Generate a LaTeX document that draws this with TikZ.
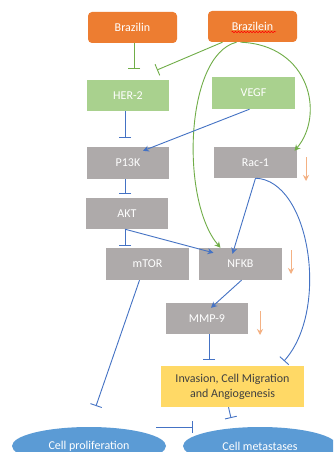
\documentclass[tikz,border=0pt]{standalone}
\usepackage{fontspec}
\setmainfont{Carlito}
\usetikzlibrary{arrows.meta,shapes.geometric,decorations.pathmorphing}
\definecolor{orangebox}{HTML}{ED7D31}
\definecolor{greenbox}{HTML}{A9D18E}
\definecolor{graybox}{HTML}{AEAAAA}
\definecolor{yellowbox}{HTML}{FFD966}
\definecolor{ellblue}{HTML}{5B9BD5}
\definecolor{linkblue}{HTML}{4472C4}
\definecolor{linkgreen}{HTML}{70AD47}
\definecolor{peach}{HTML}{F4B183}
\definecolor{darktext}{HTML}{404040}
\begin{document}
\begin{tikzpicture}[x=1pt,y=-1pt,
  font=\fontsize{12}{14}\selectfont,
  box/.style={rectangle,minimum width=82pt,minimum height=31pt,inner sep=0pt,text=white},
  orangenode/.style={box,fill=orangebox,rounded corners=4pt,minimum width=89pt},
  greennode/.style={box,fill=greenbox},
  graynode/.style={box,fill=graybox},
  cellnode/.style={ellipse,fill=ellblue,text=white,minimum width=154pt,minimum height=38pt,inner sep=0pt},
  tee/.style={line width=0.9pt,-{Bar[width=12pt,line width=0.9pt]}},
  act/.style={line width=0.9pt,-{Stealth[length=6pt,width=6pt]}},
  down/.style={peach,line width=1pt,-{Stealth[length=6pt,width=6pt]}}
]
\clip (0,0) rectangle (333,452);
\fill[white] (0,0) rectangle (333,452);
% nodes
\node[orangenode] (brazilin) at (132.5,27.5) {Brazilin};
\node[orangenode] (brazilein) at (252.5,26.5) {Brazilein};
\node[greennode] (her2) at (128,95.5) {HER-2};
\node[greennode,minimum width=83pt,minimum height=32pt] (vegf) at (253.5,93) {VEGF};
\node[graynode,minimum height=32pt] (p13k) at (128,163) {P13K};
\node[graynode,minimum width=83pt] (rac1) at (255.5,162.5) {Rac-1};
\node[graynode] (akt) at (127,213.5) {AKT};
\node[graynode,minimum width=83pt,minimum height=32pt] (mtor) at (147.5,264) {mTOR};
\node[graynode,minimum width=83pt,minimum height=32pt] (nfkb) at (240.5,264) {NFKB};
\node[graynode] (mmp9) at (207,318.5) {MMP-9};
\node[rectangle,fill=yellowbox,minimum width=143pt,minimum height=41pt,inner sep=0pt,text=darktext,align=center,font=\fontsize{12}{15}\selectfont] (inv) at (232.5,386.5) {Invasion, Cell Migration\\and Angiogenesis};
\node[cellnode] (prolif) at (89,446) {Cell proliferation};
\node[cellnode] (meta) at (260,446) {Cell metastases};
% spell-check underline
\draw[red,line width=0.5pt,decorate,decoration={snake,amplitude=0.7pt,segment length=3pt}] (231.5,32) -- (276,32);
% tee end coordinates
\coordinate (t1) at (134,69);
\coordinate (t2) at (157,70);
\coordinate (t3) at (125,138);
\coordinate (t4) at (125,194);
\coordinate (t5) at (125,246);
\coordinate (t6) at (96,406);
\coordinate (t7) at (209,360);
\coordinate (t8) at (284,361);
\coordinate (t9) at (231,418);
\coordinate (t10) at (193,427);
\coordinate (s10) at (156,427);
% green connectors
\draw[tee,linkgreen] (brazilin.south -| t1) -- (t1);
\draw[tee,linkgreen] ([xshift=-30pt]brazilein.south) -- (t2);
\draw[act,linkgreen] ([xshift=-16pt]brazilein.south) .. controls (185,55) and (180,200) .. ([xshift=-20pt]nfkb.north);
\draw[act,linkgreen] ([xshift=-12pt]brazilein.south) .. controls (310,45) and (325,115) .. ([xshift=39pt,yshift=-4pt]rac1.north);
% blue connectors
\draw[tee,linkblue] (her2.south -| t3) -- (t3);
\draw[act,linkblue] ([xshift=-4pt]vegf.south) -- ([xshift=15pt,yshift=-4pt]p13k.north);
\draw[tee,linkblue] (p13k.south -| t4) -- (t4);
\draw[tee,linkblue] (akt.south -| t5) -- (t5);
\draw[act,linkblue] ([xshift=-2pt]akt.south) -- ([xshift=-27pt,yshift=-5pt]nfkb.north);
\draw[act,linkblue] (rac1.south) -- ([xshift=-8pt,yshift=-6pt]nfkb.north);
\draw[tee,linkblue] (rac1.south) .. controls (310,180) and (330,310) .. (t8);
\draw[tee,linkblue] ([xshift=-8pt]mtor.south) -- (t6);
\draw[act,linkblue] ([xshift=1pt]nfkb.south) -- ([xshift=4pt,yshift=-5pt]mmp9.north);
\draw[tee,linkblue] (mmp9.south -| t7) -- (t7);
\draw[tee,linkblue] ([xshift=-4pt]inv.south) -- (t9);
\draw[tee,linkblue] (s10) -- (t10);
% down arrows
\coordinate (d1) at (306,157); \coordinate (e1) at (306,181);
\coordinate (d2) at (291,250); \coordinate (e2) at (291,274);
\coordinate (d3) at (260,311); \coordinate (e3) at (260,335);
\draw[down] (d1) -- (e1);
\draw[down] (d2) -- (e2);
\draw[down] (d3) -- (e3);
\end{tikzpicture}
\end{document}
